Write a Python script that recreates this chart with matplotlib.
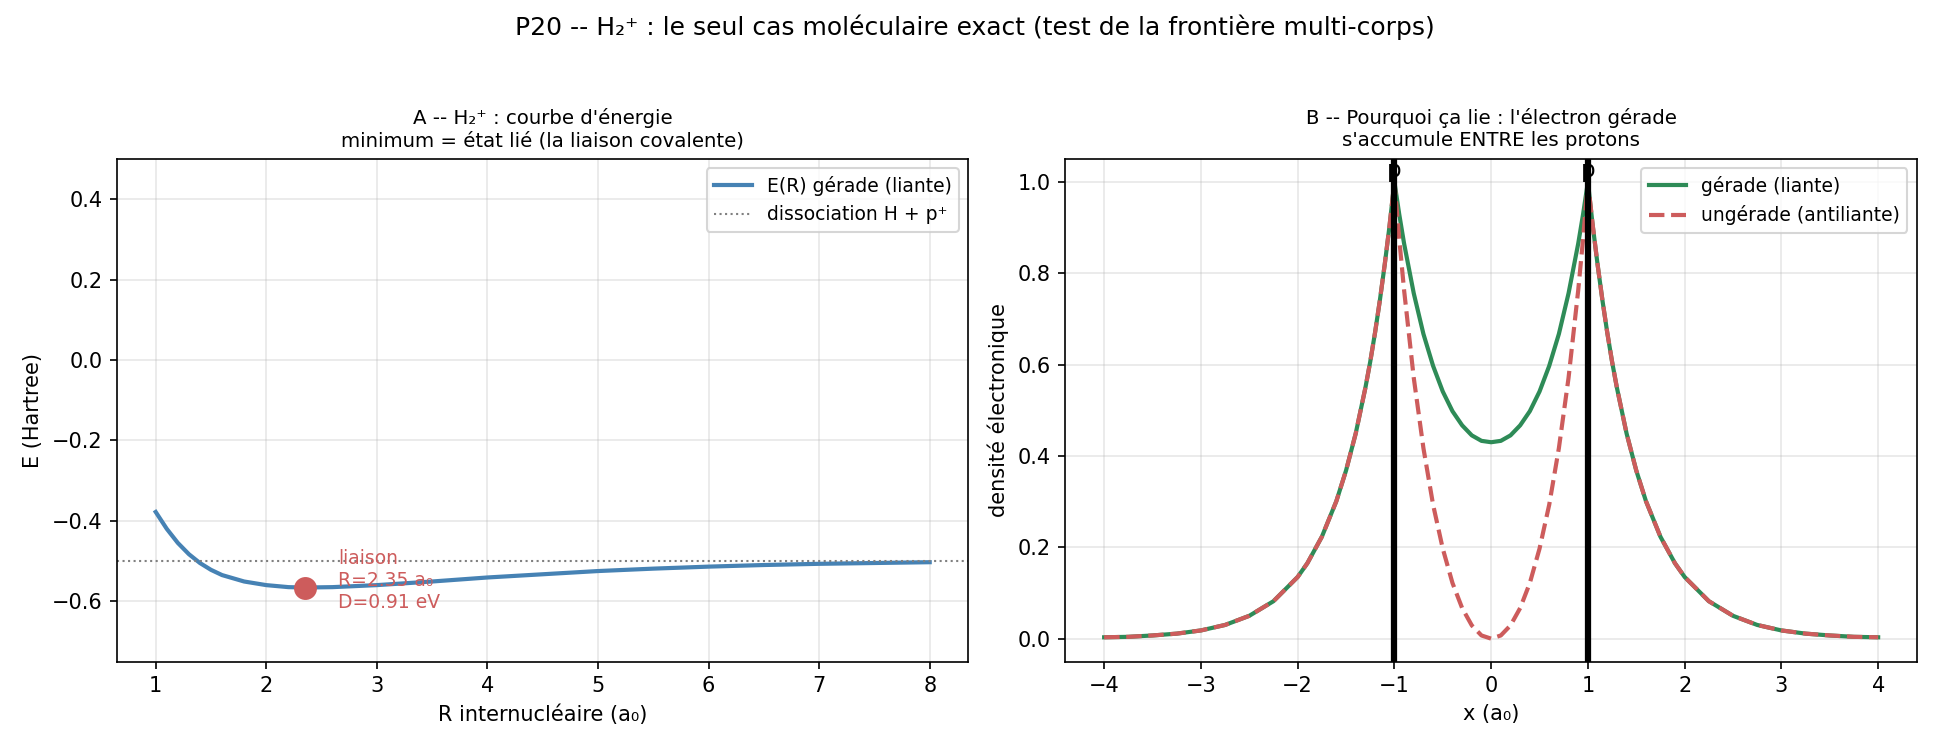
import numpy as np
import matplotlib
matplotlib.use("Agg")
import matplotlib.pyplot as plt

# panel A: energy curve E(R)
R = [1.0, 1.1, 1.2, 1.3, 1.4, 1.5, 1.6, 1.8, 2.0, 2.2, 2.35, 2.6, 3.0, 3.5,
     4.0, 4.5, 5.0, 5.5, 6.0, 6.5, 7.0, 7.5, 8.0]
E = [-0.378, -0.42, -0.455, -0.483, -0.505, -0.522, -0.535, -0.551, -0.560,
     -0.565, -0.566, -0.565, -0.560, -0.551, -0.541, -0.533, -0.525, -0.519,
     -0.514, -0.510, -0.507, -0.505, -0.503]
R_eq = 2.35
E_eq = -0.566
D_eV = 0.91
E_diss = -0.5

# panel B: densities along the axis
x = [-4.0, -3.75, -3.5, -3.25, -3.0, -2.75, -2.5, -2.25, -2.0, -1.9, -1.75,
     -1.6, -1.5, -1.4, -1.3, -1.25, -1.2, -1.15, -1.1, -1.05, -1.0,
     -0.95, -0.9, -0.8, -0.7, -0.6, -0.5, -0.4, -0.3, -0.2, -0.1, 0.0,
     0.1, 0.2, 0.3, 0.4, 0.5, 0.6, 0.7, 0.8, 0.9, 0.95,
     1.0, 1.05, 1.1, 1.15, 1.2, 1.25, 1.3, 1.4, 1.5, 1.6, 1.75, 1.9, 2.0,
     2.25, 2.5, 2.75, 3.0, 3.25, 3.5, 3.75, 4.0]
dens_g = [0.003, 0.004, 0.007, 0.011, 0.018, 0.030, 0.050, 0.082, 0.135, 0.165,
          0.223, 0.301, 0.368, 0.449, 0.549, 0.606, 0.670, 0.741, 0.819, 0.904,
          1.0,
          0.929, 0.865, 0.756, 0.667, 0.597, 0.541, 0.498, 0.467, 0.445, 0.433,
          0.430,
          0.433, 0.445, 0.467, 0.498, 0.541, 0.597, 0.667, 0.756, 0.865, 0.929,
          1.0, 0.904, 0.819, 0.741, 0.670, 0.606, 0.549, 0.449, 0.368, 0.301,
          0.223, 0.165, 0.135, 0.082, 0.050, 0.030, 0.018, 0.011, 0.007, 0.004,
          0.003]
dens_u = [0.003, 0.004, 0.007, 0.011, 0.018, 0.030, 0.050, 0.082, 0.135, 0.165,
          0.223, 0.301, 0.368, 0.449, 0.549, 0.606, 0.670, 0.741, 0.819, 0.905,
          1.0,
          0.875, 0.763, 0.571, 0.417, 0.293, 0.197, 0.122, 0.067, 0.029, 0.007,
          0.0,
          0.007, 0.029, 0.067, 0.122, 0.197, 0.293, 0.417, 0.571, 0.763, 0.875,
          1.0, 0.905, 0.819, 0.741, 0.670, 0.606, 0.549, 0.449, 0.368, 0.301,
          0.223, 0.165, 0.135, 0.082, 0.050, 0.030, 0.018, 0.011, 0.007, 0.004,
          0.003]
protons = [-1.0, 1.0]

fig, (ax1, ax2) = plt.subplots(1, 2, figsize=(13, 5), dpi=150)
fig.suptitle("P20 -- H₂⁺ : le seul cas moléculaire exact (test de la frontière multi-corps)",
             fontsize=12)

ax1.plot(R, E, color="steelblue", lw=2, label="E(R) gérade (liante)")
ax1.axhline(E_diss, color="gray", ls=":", lw=1, label="dissociation H + p⁺")
ax1.plot(R_eq, E_eq, "o", color="indianred", ms=10)
ax1.text(R_eq + 0.3, E_eq + 0.018, f"liaison\nR={R_eq:.2f} a₀\nD={D_eV:.2f} eV",
         color="indianred", fontsize=9, va="center")
ax1.set_ylim(-0.75, 0.5)
ax1.set_xlabel("R internucléaire (a₀)")
ax1.set_ylabel("E (Hartree)")
ax1.set_title("A -- H₂⁺ : courbe d'énergie\nminimum = état lié (la liaison covalente)",
              fontsize=9.5)
ax1.legend(fontsize=9, loc="upper right")
ax1.grid(alpha=0.3)

ax2.plot(x, dens_g, color="seagreen", lw=2, label="gérade (liante)")
ax2.plot(x, dens_u, color="indianred", lw=2, ls="--", label="ungérade (antiliante)")
for p in protons:
    ax2.axvline(p, color="black", lw=3)
ax2.set_xlabel("x (a₀)")
ax2.set_ylabel("densité électronique")
ax2.set_title("B -- Pourquoi ça lie : l'électron gérade\ns'accumule ENTRE les protons",
              fontsize=9.5)
ax2.legend(fontsize=9, loc="upper right")
ax2.grid(alpha=0.3)
ylo, yhi = ax2.get_ylim()
for p in protons:
    ax2.text(p, yhi, "p", ha="center", va="top", fontsize=11)

plt.subplots_adjust(left=0.06, right=0.983, bottom=0.118, top=0.788, wspace=0.114)
plt.savefig("out.png")
